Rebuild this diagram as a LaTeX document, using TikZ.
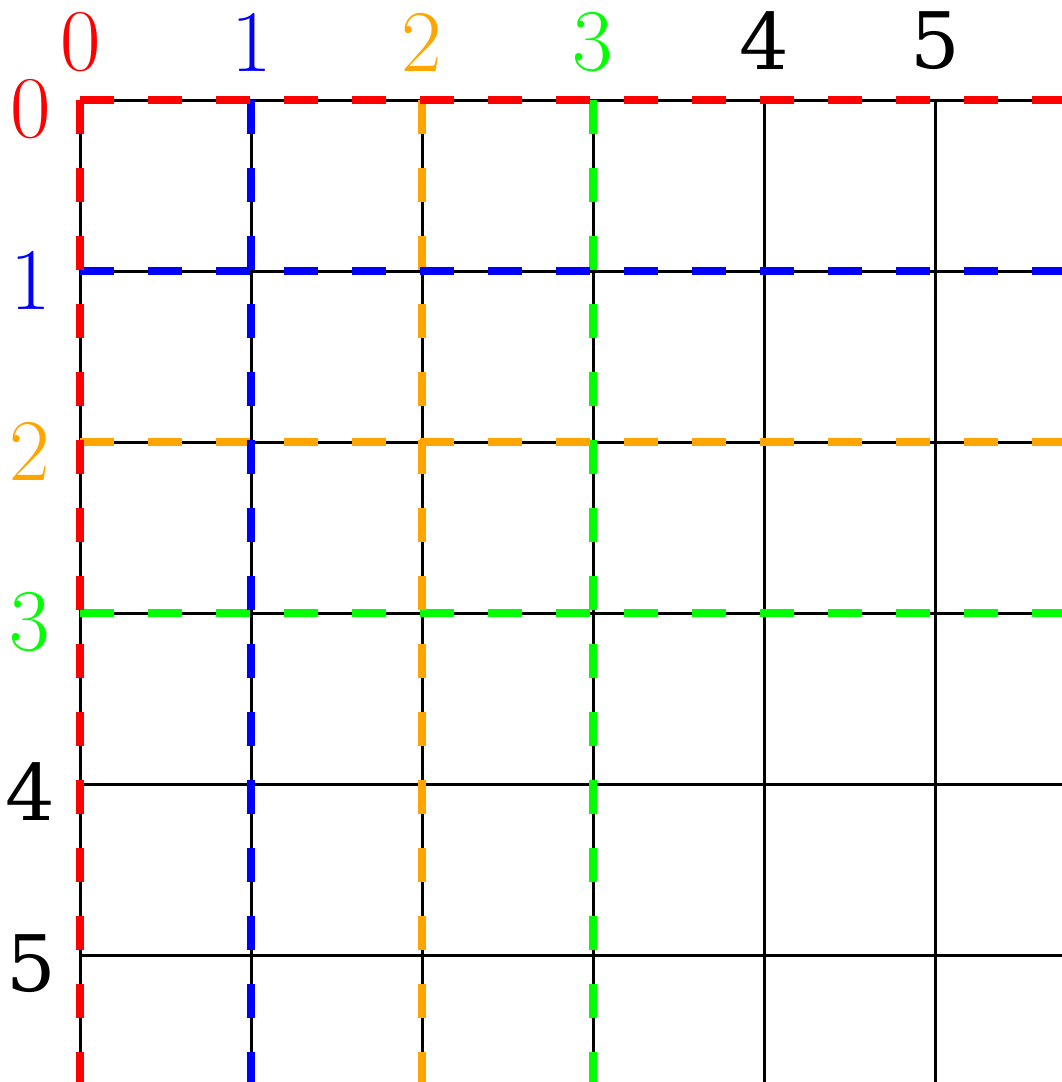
\documentclass[tikz,border=0pt]{standalone}
\usepackage{fontspec}
\newfontfamily\dvserif{DejaVu Serif}
\definecolor{cred}{HTML}{FF0000}
\definecolor{cblue}{HTML}{0000FF}
\definecolor{corange}{HTML}{FFA500}
\definecolor{cgreen}{HTML}{00FF00}
\tikzset{
  gridline/.style={black,line width=3pt},
  dashline/.style={line width=8pt,dash pattern=on 34pt off 34pt},
  lmlabel/.style={inner sep=0pt,font=\fontsize{88}{88}\selectfont},
  dvlabel/.style={inner sep=0pt,font=\dvserif\fontsize{78}{78}\selectfont},
}
\begin{document}
\begin{tikzpicture}[x=1pt,y=-1pt]
\useasboundingbox (0,0) rectangle (1062,1082);
% black grid
\foreach \v in {80,251,422,593,764,935} {
  \draw[gridline] (\v,100) -- (\v,1082);
  \draw[gridline] (80,\v+20) -- (1062,\v+20);
}
% coloured dashed lines
\draw[dashline,cgreen] (80,613) -- (1062,613);
\draw[dashline,cgreen] (593,100) -- (593,1082);
\draw[dashline,corange] (80,442) -- (1062,442);
\draw[dashline,corange] (422,100) -- (422,1082);
\draw[dashline,cblue] (80,271) -- (1062,271);
\draw[dashline,cblue] (251,100) -- (251,1082);
\draw[dashline,cred] (80,100) -- (1062,100);
\draw[dashline,cred] (80,100) -- (80,1082);
% top labels
\node[lmlabel,text=cred] (t0) at (81,42) {0};
\node[lmlabel,text=cblue] (t1) at (252,42) {1};
\node[lmlabel,text=corange] (t2) at (422,42) {2};
\node[lmlabel,text=cgreen] (t3) at (593,42) {3};
\node[dvlabel] (t4) at (764,41) {4};
\node[dvlabel] (t5) at (935,41) {5};
% left labels
\node[lmlabel,text=cred] (l0) at (31,109) {0};
\node[lmlabel,text=cblue] (l1) at (31,280) {1};
\node[lmlabel,text=corange] (l2) at (30,451) {2};
\node[lmlabel,text=cgreen] (l3) at (30,622) {3};
\node[dvlabel] (l4) at (30,792) {4};
\node[dvlabel] (l5) at (31,964) {5};
\end{tikzpicture}
\end{document}
